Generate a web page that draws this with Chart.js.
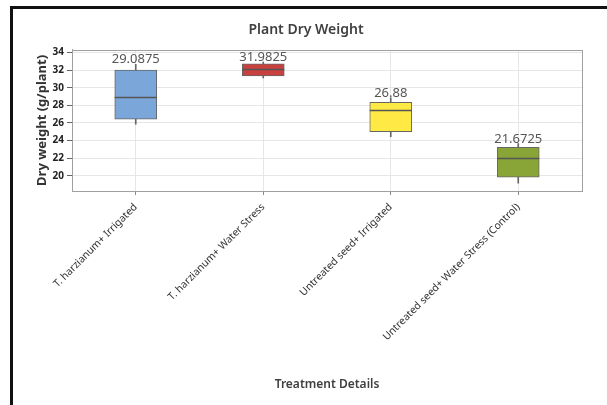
<!DOCTYPE html>
<html>
<head>
<meta charset="utf-8">
<script src="https://cdn.jsdelivr.net/npm/chart.js@4.4.0/dist/chart.umd.min.js"></script>
<style>
  body { margin: 0; background: #fff; }
  #wrap { position: relative; width: 607px; height: 405px; }
  #frame { position: absolute; left: 10px; top: 6px; width: 597px; height: 399px;
    border-left: 3px solid #111; border-top: 3px solid #111; box-sizing: border-box; pointer-events: none; }
  canvas { position: absolute; left: 0; top: 0; }
</style>
</head>
<body>
<div id="wrap">
  <canvas id="myChart" width="607" height="405"></canvas>
  <div id="frame"></div>
</div>
<script>
const categories = [
  'T. harzianum+ Irrigated',
  'T. harzianum+ Water Stress',
  'Untreated seed+ Irrigated',
  'Untreated seed+ Water Stress (Control)',
]
// box plot values
const q1 = [26.42, 31.35, 25.0, 19.82]
const q3 = [32.0, 32.71, 28.35, 23.23]
const medians = [28.92, 32.18, 27.45, 21.98]
const whiskerLow = [25.85, 31.12, 24.44, 19.14]
const whiskerHigh = [32.65, 32.9, 28.85, 23.65]
const meanLabels = ['29.0875', '31.9825', '26.88', '21.6725']
const yTicks = [20, 22, 24, 26, 28, 30, 32, 34]

const boxColors = ['#7ba6da', '#c9413f', '#ffea45', '#89a538']
const font = 'Noto Sans'

const boxExtras = {
  id: 'boxExtras',
  afterDatasetsDraw(chart) {
    const ctx = chart.ctx
    const x = chart.scales.x
    const y = chart.scales.y
    const boxes = chart.getDatasetMeta(1).data
    ctx.save()
    medians.forEach((m, i) => {
      const cx = x.getPixelForValue(i)
      const half = boxes[i].width / 2
      const py = Math.round(y.getPixelForValue(m)) + 0.5
      ctx.strokeStyle = '#555'
      ctx.lineWidth = 1.3
      ctx.beginPath()
      ctx.moveTo(cx - half, py)
      ctx.lineTo(cx + half, py)
      ctx.stroke()
      // mean label above the upper whisker
      ctx.fillStyle = '#555'
      ctx.font = '13px "' + font + '"'
      ctx.textAlign = 'center'
      ctx.textBaseline = 'alphabetic'
      ctx.fillText(meanLabels[i], cx, y.getPixelForValue(whiskerHigh[i]) - 1)
    })
    // plot frame
    const a = chart.chartArea
    ctx.strokeStyle = '#a0a0a0'
    ctx.lineWidth = 1
    ctx.strokeRect(Math.round(a.left) + 0.5, Math.round(a.top) + 0.5,
      Math.round(a.right - a.left), Math.round(a.bottom - a.top))
    ctx.restore()
  },
}

const ctx = document.getElementById('myChart').getContext('2d')
const chart = new Chart(ctx, {
  type: 'bar',
  data: {
    labels: categories,
    datasets: [
      {
        // whiskers
        data: whiskerLow.map((v, i) => [v, whiskerHigh[i]]),
        backgroundColor: '#666',
        barThickness: 1,
        grouped: false,
        order: 2,
      },
      {
        // boxes
        data: q1.map((v, i) => [v, q3[i]]),
        backgroundColor: boxColors,
        borderColor: '#666',
        borderWidth: 1,
        borderSkipped: false,
        barThickness: 42,
        grouped: false,
        order: 1,
      },
    ],
  },
  options: {
    responsive: false,
    animation: false,
    devicePixelRatio: 1,
    layout: { padding: { left: 30, right: 25, top: 0, bottom: 9 } },
    plugins: {
      legend: { display: false },
      tooltip: { enabled: false },
      title: {
        display: true,
        text: 'Plant Dry Weight',
        color: '#404040',
        font: { family: font, size: 14, weight: '600' },
        padding: { top: 22, bottom: 11 },
      },
    },
    scales: {
      x: {
        grid: { color: '#e6e6e6', offset: false, tickLength: 4, tickColor: '#888' },
        border: { color: '#a0a0a0' },
        ticks: {
          autoSkip: false,
          maxRotation: 45,
          minRotation: 45,
          color: '#333',
          padding: 6,
          font: { family: font, size: 10.3 },
        },
        title: {
          display: true,
          text: 'Treatment Details',
          color: '#404040',
          font: { family: font, size: 12, weight: '600' },
        },
        afterFit(scale) { scale.height = 205 },
      },
      y: {
        min: 18.26,
        max: 34.31,
        afterBuildTicks(scale) { scale.ticks = yTicks.map((v) => ({ value: v })) },
        grid: { color: '#e6e6e6', tickLength: 5, tickColor: '#666' },
        border: { color: '#a0a0a0' },
        ticks: {
          color: '#222',
          padding: 3,
          font: { family: font, size: 10, weight: 'bold' },
        },
        title: {
          display: true,
          text: 'Dry weight (g/plant)',
          color: '#333',
          font: { family: font, size: 13, weight: 'bold' },
        },
        afterFit(scale) { scale.width = 42 },
      },
    },
  },
  plugins: [boxExtras],
})
</script>
</body>
</html>
